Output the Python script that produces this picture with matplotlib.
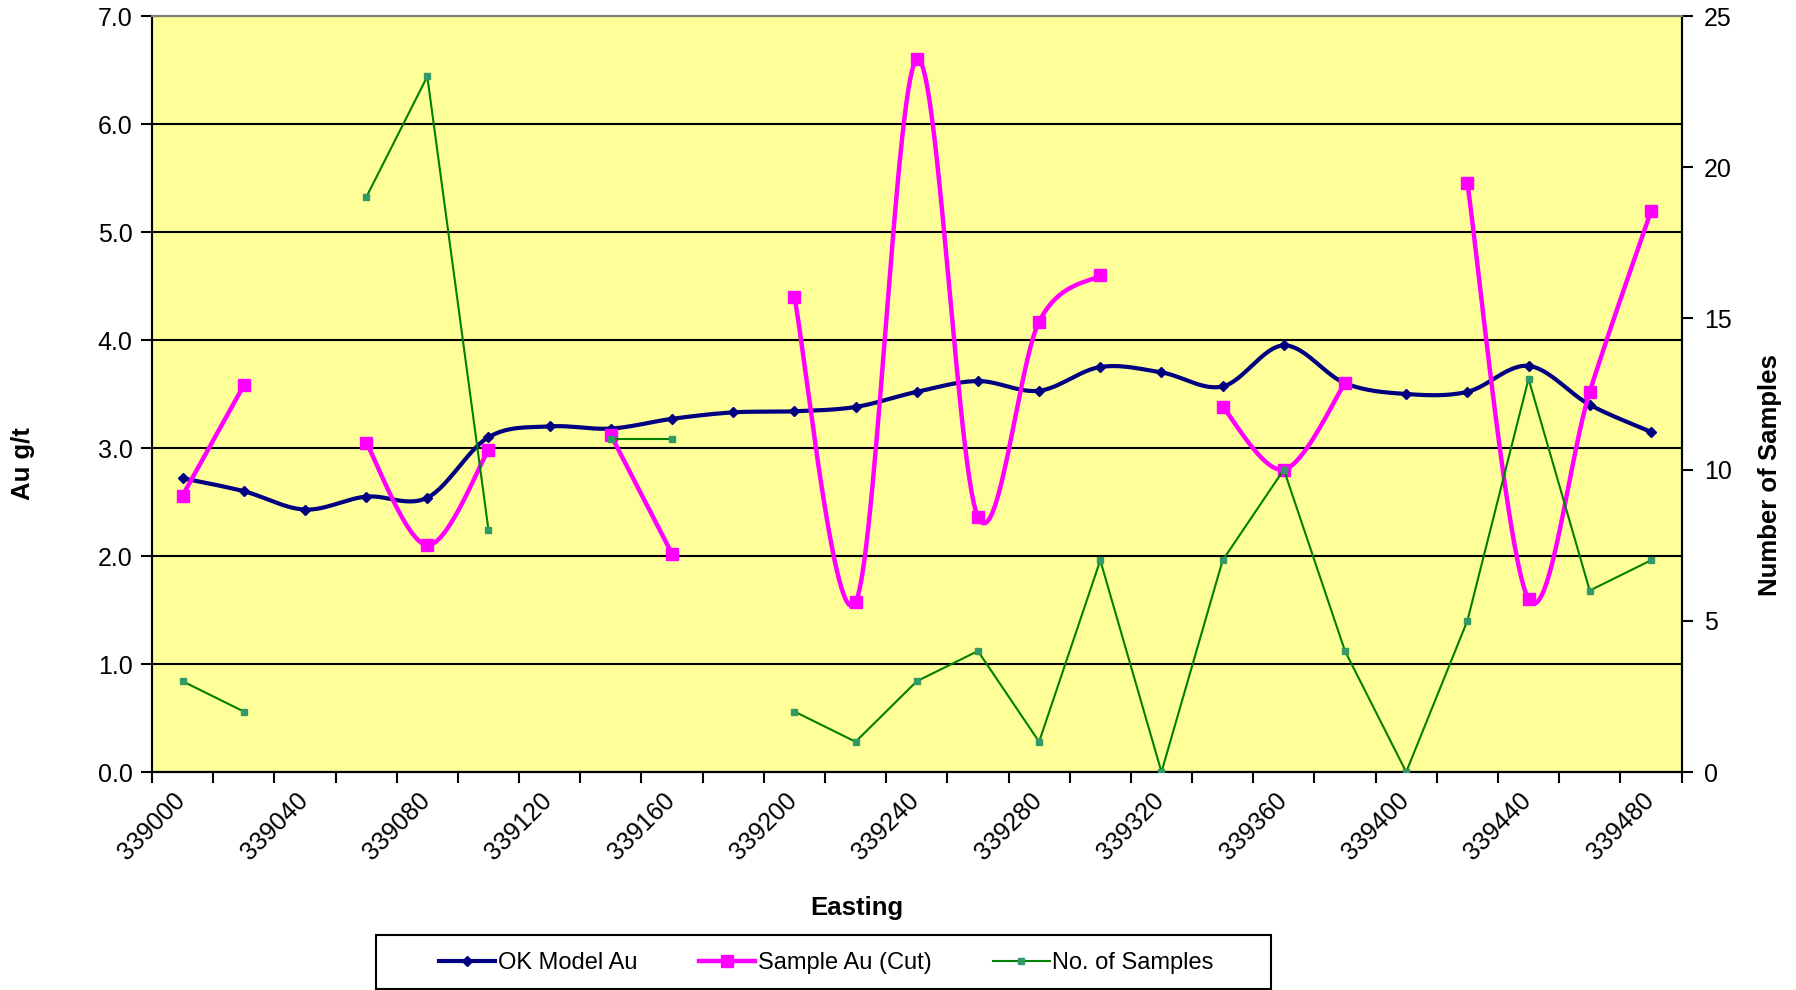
import numpy as np
import matplotlib
matplotlib.use("Agg")
import matplotlib.pyplot as plt
from matplotlib.lines import Line2D
from matplotlib.patches import Rectangle

plt.rcParams['font.family'] = ['Liberation Sans', 'DejaVu Sans']

easting = [339010 + 20 * i for i in range(25)]
ok_model = [2.72, 2.60, 2.43, 2.55, 2.54, 3.10, 3.20, 3.18, 3.27, 3.33,
            3.34, 3.38, 3.52, 3.62, 3.53, 3.75, 3.70, 3.57, 3.95, 3.60,
            3.50, 3.52, 3.76, 3.40, 3.15]
nan = np.nan
sample_au = [2.56, 3.58, nan, 3.05, 2.10, 2.98, nan, 3.12, 2.02, nan,
             4.40, 1.57, 6.60, 2.36, 4.17, 4.60, nan, 3.38, 2.80, 3.60,
             nan, 5.45, 1.60, 3.52, 5.19]
n_samples = [3, 2, nan, 19, 23, 8, nan, 11, 11, nan,
             2, 1, 3, 4, 1, 7, 0, 7, 10, 4,
             0, 5, 13, 6, 7]

NAVY = '#000080'
MAGENTA = '#FF00FF'
GREEN = '#008000'
GREEN_MK = '#339966'


def runs(x, y):
    x = np.asarray(x, float)
    y = np.asarray(y, float)
    ok = ~np.isnan(y)
    out, cur = [], []
    for xi, yi, k in zip(x, y, ok):
        if k:
            cur.append((xi, yi))
        elif cur:
            out.append(np.array(cur))
            cur = []
    if cur:
        out.append(np.array(cur))
    return out


def smooth(pts, n=30):
    # Excel-like smoothed line: cubic bezier with catmull-rom control points
    if len(pts) < 3:
        return pts
    res = []
    t = np.linspace(0, 1, n)[:, None]
    for i in range(len(pts) - 1):
        p0 = pts[max(i - 1, 0)]
        p1 = pts[i]
        p2 = pts[i + 1]
        p3 = pts[min(i + 2, len(pts) - 1)]
        c1 = p1 + (p2 - p0) / 6.0
        c2 = p2 - (p3 - p1) / 6.0
        seg = ((1 - t) ** 3) * p1 + 3 * ((1 - t) ** 2) * t * c1 + 3 * (1 - t) * t ** 2 * c2 + t ** 3 * p2
        res.append(seg if i == 0 else seg[1:])
    return np.vstack(res)


fig = plt.figure(figsize=(17.96, 9.90), dpi=100)
ax = fig.add_axes([152 / 1796, 1 - 772 / 990, (1681.5 - 152) / 1796, (772 - 16) / 990])
ax.set_facecolor('#FFFF99')
ax2 = ax.twinx()

ax.set_xlim(339000, 339500)
ax.set_ylim(0, 7)
ax2.set_ylim(0, 25)

ax.set_yticks(np.arange(0, 7.01, 1.0))
ax.set_yticklabels([f'{v:.1f}' for v in np.arange(0, 7.01, 1.0)])
ax2.set_yticks(range(0, 26, 5))
ax.set_xticks(range(339000, 339481, 40))
ax.set_xticks(range(339000, 339501, 20), minor=True)
ax.set_xticklabels([str(v) for v in range(339000, 339481, 40)], rotation=45, ha='center')

ax.grid(axis='y', color='black', linewidth=1.5)
ax.set_axisbelow(True)

for a in (ax, ax2):
    a.tick_params(axis='both', which='both', direction='out', length=8, width=1.5,
                  labelsize=18, colors='black')
    for s in a.spines.values():
        s.set_linewidth(1.5)
    a.spines['top'].set_color('#808080')
ax.tick_params(axis='x', which='major', pad=4)
ax.tick_params(axis='x', which='minor', length=8, width=1.5)
ax.tick_params(axis='y', pad=6)
ax2.tick_params(axis='y', pad=8)

# OK model
for r in runs(easting, ok_model):
    s = smooth(r)
    ax.plot(s[:, 0], s[:, 1], color=NAVY, lw=3, zorder=4, solid_capstyle='round')
    ax.plot(r[:, 0], r[:, 1], ls='none', marker='D', ms=5, color=NAVY, zorder=5)

# Sample Au
for r in runs(easting, sample_au):
    s = smooth(r)
    ax.plot(s[:, 0], s[:, 1], color=MAGENTA, lw=3.2, zorder=6)
    ax.plot(r[:, 0], r[:, 1], ls='none', marker='s', ms=8, color=MAGENTA, zorder=7)

# No. of samples
for r in runs(easting, n_samples):
    ax2.plot(r[:, 0], r[:, 1], color=GREEN, lw=1.5, zorder=3)
    ax2.plot(r[:, 0], r[:, 1], ls='none', marker='s', ms=5, color=GREEN_MK, zorder=3)

fig.text(23 / 1796, 1 - 464 / 990, 'Au g/t', rotation=90, ha='center', va='center',
         fontsize=18.5, fontweight='bold')
fig.text(1770 / 1796, 1 - 475 / 990, 'Number of Samples', rotation=90, ha='center', va='center',
         fontsize=18.5, fontweight='bold')
fig.text(857 / 1796, 1 - 908 / 990, 'Easting', ha='center', va='center',
         fontsize=18.5, fontweight='bold')

handles = [
    Line2D([], [], color=NAVY, lw=3, marker='D', ms=5),
    Line2D([], [], color=MAGENTA, lw=3.2, marker='s', ms=8),
    Line2D([], [], color=GREEN, lw=1.5, marker='s', ms=5, markerfacecolor=GREEN_MK,
           markeredgecolor=GREEN_MK),
]
labels = ['OK Model Au', 'Sample Au (Cut)', 'No. of Samples']
fig.patches.append(Rectangle((376 / 1796, 1 - 989 / 990), 895 / 1796, 54 / 990,
                             transform=fig.transFigure, facecolor='white',
                             edgecolor='black', linewidth=1.5, zorder=1))
leg = fig.legend(handles, labels, loc='center', ncol=3,
                 bbox_to_anchor=(826 / 1796, 1 - 963 / 990),
                 fontsize=17, frameon=False, handlelength=2.4, handletextpad=0.1,
                 columnspacing=2.6, borderaxespad=0, borderpad=0)

fig.savefig('out.png', dpi=100, facecolor='white')
